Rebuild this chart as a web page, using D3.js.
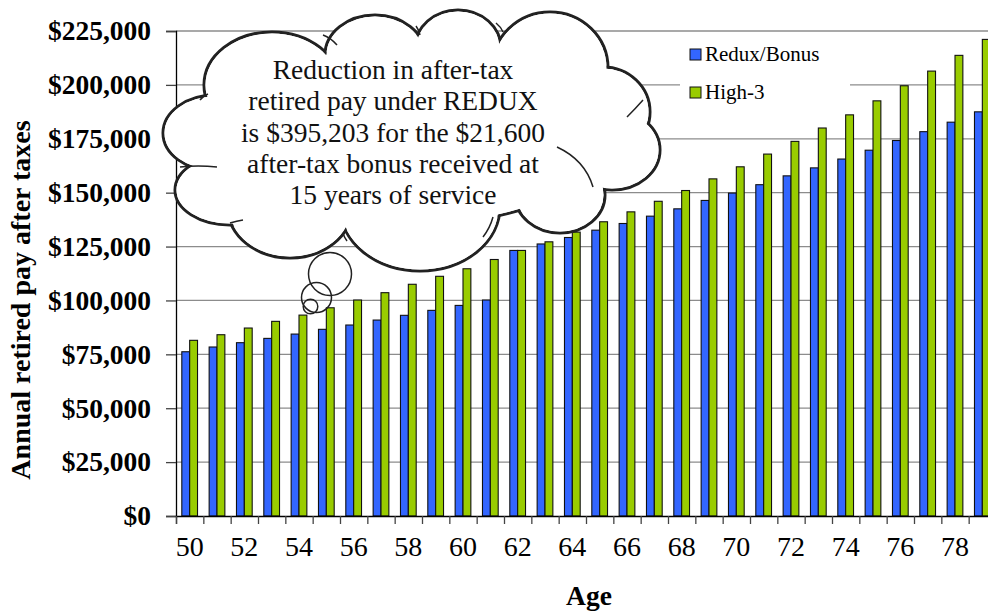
<!DOCTYPE html>
<html lang="en">
<head>
    <meta charset="UTF-8">
    <title>Retired pay after taxes</title>
    <script src="https://d3js.org/d3.v7.min.js"></script>
    <style>
        body { margin: 0; background: #fff; }
        text { font-family: "Liberation Serif", "Times New Roman", serif; }
    </style>
</head>
<body>
    <div id="graph"></div>
    <script>
        // data
        const ages = d3.range(50, 80);
        const reduxBonus = [76200, 78400, 80400, 82400, 84400, 86600, 88600, 90900, 93100, 95400,
                            97700, 100200, 123200, 126200, 129200, 132600, 135700, 139100, 142500, 146400,
                            149800, 153700, 157800, 161500, 165600, 169700, 174200, 178300, 182700, 187500];
        const high3 = [81500, 84100, 87200, 90300, 93200, 96600, 100200, 103600, 107500, 111200,
                       114700, 119000, 123200, 127200, 131700, 136500, 141100, 146000, 151000, 156400,
                       162000, 167900, 173800, 180000, 186100, 192600, 199600, 206400, 213700, 221100];
        const seriesNames = ["Redux/Bonus", "High-3"];
        const seriesColors = ["#3366ff", "#99cc00"];
        const yTicks = [0, 25000, 50000, 75000, 100000, 125000, 150000, 175000, 200000, 225000];
        const xLabels = d3.range(50, 80, 2);
        const calloutLines = ["Reduction in after-tax", "retired pay under REDUX",
                              "is $395,203 for the $21,600", "after-tax bonus received at",
                              "15 years of service"];

        const W = 988, H = 616;
        const margin = {top: 31, left: 176};
        const plotW = 820, plotH = 485;

        const svg = d3.select("#graph")
            .append("svg")
            .attr("width", W)
            .attr("height", H);

        const g = svg.append("g")
            .attr("transform", `translate(${margin.left},${margin.top})`);

        const x = d3.scaleBand()
            .domain(ages)
            .range([0, plotW])
            .paddingInner(0.425)
            .paddingOuter(0.2125);

        const xs = d3.scaleBand()
            .domain(seriesNames)
            .range([0, x.bandwidth()]);

        const y = d3.scaleLinear()
            .domain([0, 225000])
            .range([plotH, 0]);

        // grid lines
        g.selectAll(".grid")
            .data(yTicks.filter(d => d > 0))
            .join("line")
            .attr("class", "grid")
            .attr("x1", 0).attr("x2", plotW)
            .attr("y1", d => y(d)).attr("y2", d => y(d))
            .attr("stroke", "#8c8c8c")
            .attr("stroke-width", 1.3);

        // bars
        const rows = ages.map((a, i) => ({age: a, values: [reduxBonus[i], high3[i]]}));
        g.selectAll(".age")
            .data(rows)
            .join("g")
            .attr("class", "age")
            .attr("transform", d => `translate(${x(d.age)},0)`)
            .selectAll("rect")
            .data(d => d.values.map((v, k) => ({name: seriesNames[k], v, k})))
            .join("rect")
            .attr("x", d => xs(d.name))
            .attr("y", d => y(d.v))
            .attr("width", xs.bandwidth())
            .attr("height", d => plotH - y(d.v))
            .attr("fill", d => seriesColors[d.k])
            .attr("stroke", "#111")
            .attr("stroke-width", 1.1);

        // y axis
        const yAxis = g.append("g")
            .call(d3.axisLeft(y)
                .tickValues(yTicks)
                .tickSize(10)
                .tickPadding(15)
                .tickFormat(d => "$" + d3.format(",")(d)));
        yAxis.select(".domain").attr("stroke", "#000").attr("stroke-width", 1.3);
        yAxis.selectAll(".tick line").attr("stroke", "#444").attr("stroke-width", 1.3);
        yAxis.selectAll(".tick text")
            .attr("font-size", 27.5)
            .attr("font-weight", "bold")
            .attr("fill", "#000");

        // x axis: ticks between categories, labels every 2 years
        const xEdges = d3.scaleLinear().domain([0, ages.length]).range([0, plotW]);
        const xAxis = g.append("g")
            .attr("transform", `translate(0,${plotH})`)
            .call(d3.axisBottom(xEdges).ticks(ages.length).tickSize(8).tickFormat(""));
        xAxis.select(".domain").attr("stroke", "#000").attr("stroke-width", 1.3);
        xAxis.selectAll(".tick line").attr("stroke", "#444").attr("stroke-width", 1.3);

        const xLab = g.append("g")
            .attr("transform", `translate(0,${plotH})`)
            .call(d3.axisBottom(x).tickValues(xLabels).tickSize(0).tickPadding(20));
        xLab.select(".domain").remove();
        xLab.selectAll(".tick text")
            .attr("font-size", 28)
            .attr("fill", "#000");

        // axis titles
        svg.append("text")
            .attr("x", margin.left + plotW / 2 + 3)
            .attr("y", 605)
            .attr("text-anchor", "middle")
            .attr("font-size", 27.5)
            .attr("font-weight", "bold")
            .text("Age");

        svg.append("text")
            .attr("transform", "translate(30,300) rotate(-90)")
            .attr("text-anchor", "middle")
            .attr("font-size", 28)
            .attr("font-weight", "bold")
            .text("Annual retired pay after taxes");

        // legend
        const legend = svg.append("g");
        legend.append("rect")
            .attr("x", 680).attr("y", 38).attr("width", 170).attr("height", 72)
            .attr("fill", "#fff");
        seriesNames.forEach((name, k) => {
            legend.append("rect")
                .attr("x", 690).attr("y", 49 + k * 38)
                .attr("width", 11).attr("height", 11)
                .attr("fill", seriesColors[k])
                .attr("stroke", "#111");
            legend.append("text")
                .attr("x", 705).attr("y", 61 + k * 38)
                .attr("font-size", 21)
                .text(name);
        });

        // cloud callout
        const bumps = [
            [272, 85, 68, 53], [375, 55, 50, 40], [458, 48, 43, 38], [550, 68, 58, 56],
            [603, 112, 47, 45], [612, 150, 48, 40], [560, 195, 45, 38], [420, 207, 80, 64],
            [290, 208, 62, 50], [230, 190, 55, 35], [215, 133, 52, 38], [410, 135, 200, 90]
        ];
        const cloud = svg.append("g");
        cloud.selectAll(".edge")
            .data(bumps)
            .join("ellipse")
            .attr("cx", d => d[0]).attr("cy", d => d[1])
            .attr("rx", d => d[2]).attr("ry", d => d[3])
            .attr("fill", "#fff")
            .attr("stroke", "#222")
            .attr("stroke-width", 3);
        cloud.selectAll(".fill")
            .data(bumps)
            .join("ellipse")
            .attr("cx", d => d[0]).attr("cy", d => d[1])
            .attr("rx", d => d[2] - 1.5).attr("ry", d => d[3] - 1.5)
            .attr("fill", "#fff");

        // small inner arcs of the cloud outline
        const innerArcs = [
            "M200,100 Q203,96 208,94", "M323,35 Q331,38 337,45", "M416,26 Q419,30 420,35",
            "M496,23 Q501,27 503,32", "M601,42 Q604,46 605,52", "M627,117 Q636,108 643,100",
            "M557,147 Q585,160 593,187", "M180,167 Q198,165 217,167", "M230,223 Q237,221 243,220",
            "M343,233 Q344,237 347,241", "M493,217 Q490,228 483,237"
        ];
        cloud.selectAll(".arc")
            .data(innerArcs)
            .join("path")
            .attr("d", d => d)
            .attr("fill", "none")
            .attr("stroke", "#222")
            .attr("stroke-width", 1.5);

        cloud.selectAll(".line")
            .data(calloutLines)
            .join("text")
            .attr("x", 393)
            .attr("y", (d, i) => 79 + i * 31.3)
            .attr("text-anchor", "middle")
            .attr("font-size", 27.5)
            .attr("fill", "#111")
            .text(d => d);

        // thought bubbles
        cloud.selectAll(".bubble")
            .data([[330, 274, 21.5], [316.5, 297.5, 15], [310.5, 306.5, 7.3]])
            .join("circle")
            .attr("cx", d => d[0]).attr("cy", d => d[1]).attr("r", d => d[2])
            .attr("fill", "none")
            .attr("stroke", "#222")
            .attr("stroke-width", 1.5);
    </script>
</body>
</html>
